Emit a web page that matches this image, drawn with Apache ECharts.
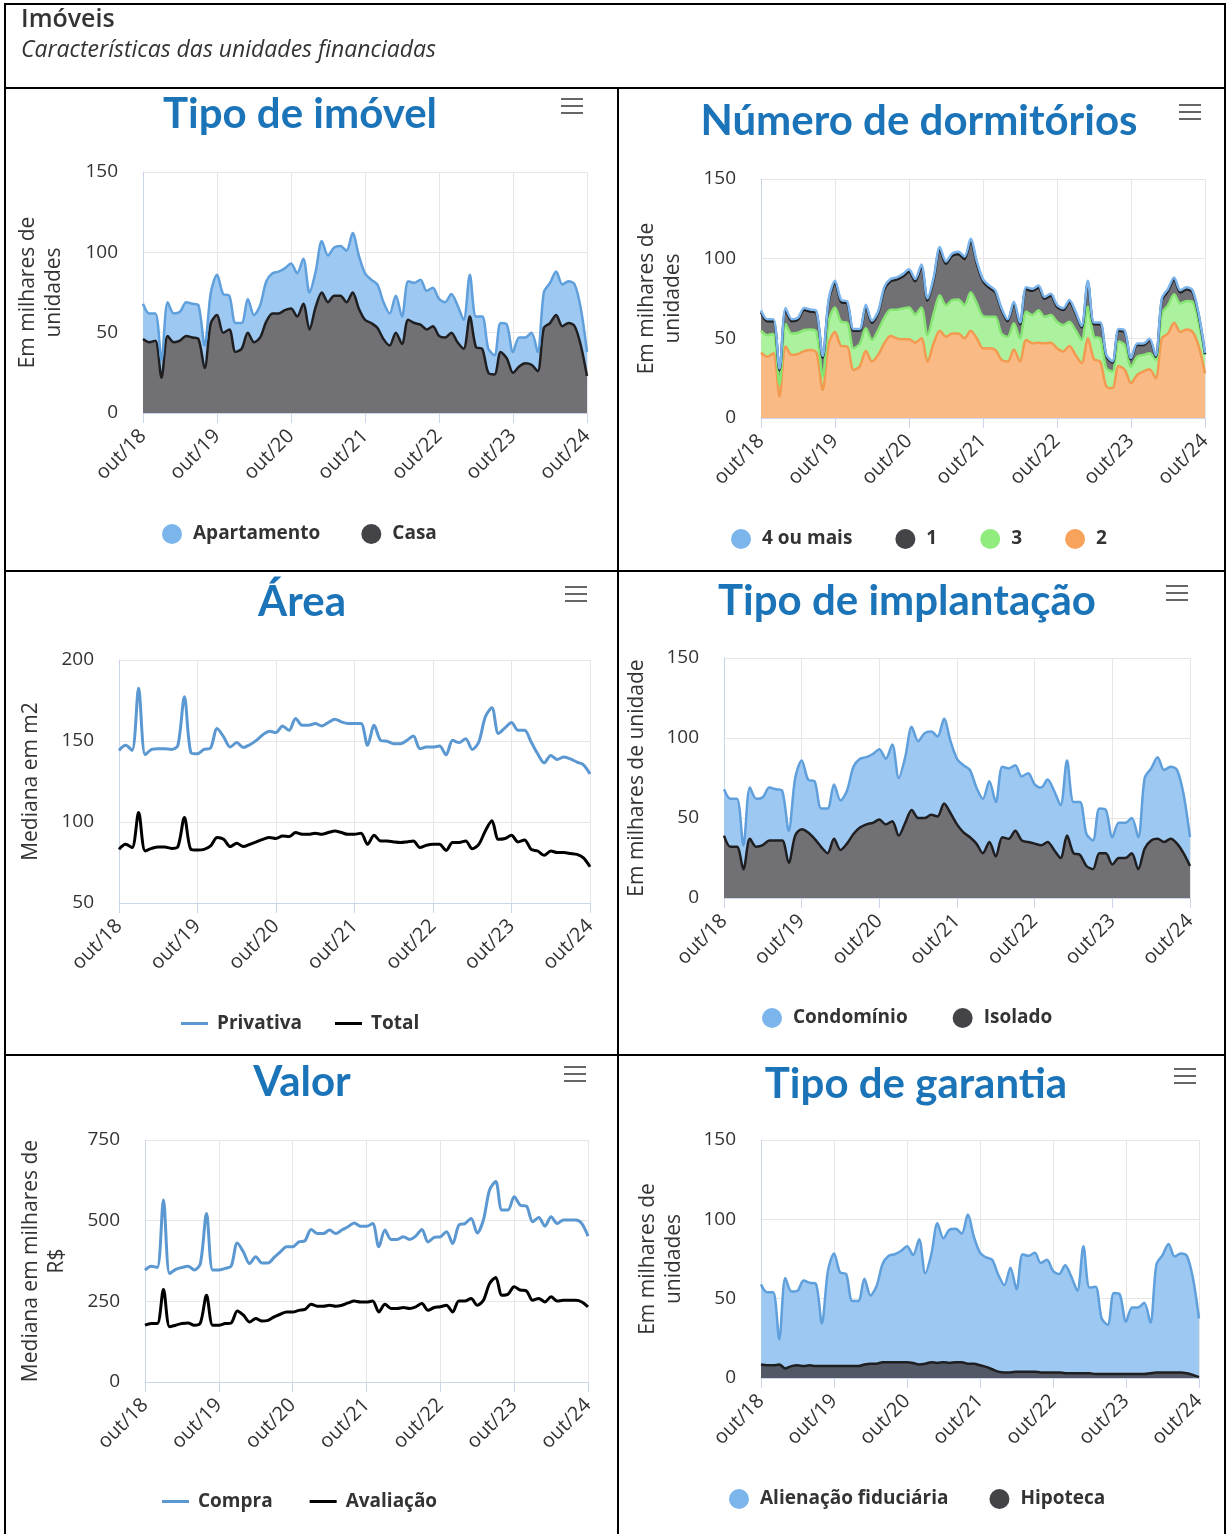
<!DOCTYPE html>
<html lang="pt-BR">
<head>
<meta charset="utf-8">
<title>Imóveis - Características das unidades financiadas</title>
<script src="https://cdn.jsdelivr.net/npm/echarts@6/dist/echarts.min.js"></script>
<style>
  html, body { margin: 0; padding: 0; background: #fff; }
  #painel { width: 1226px; height: 1534px; }
</style>
</head>
<body>
<div id="painel"></div>
<script>
// meses de out/18 a out/24
const meses = [
  'out/18','nov/18','dez/18',
  'jan/19','fev/19','mar/19','abr/19','mai/19','jun/19','jul/19','ago/19','set/19','out/19','nov/19','dez/19',
  'jan/20','fev/20','mar/20','abr/20','mai/20','jun/20','jul/20','ago/20','set/20','out/20','nov/20','dez/20',
  'jan/21','fev/21','mar/21','abr/21','mai/21','jun/21','jul/21','ago/21','set/21','out/21','nov/21','dez/21',
  'jan/22','fev/22','mar/22','abr/22','mai/22','jun/22','jul/22','ago/22','set/22','out/22','nov/22','dez/22',
  'jan/23','fev/23','mar/23','abr/23','mai/23','jun/23','jul/23','ago/23','set/23','out/23','nov/23','dez/23',
  'jan/24','fev/24','mar/24','abr/24','mai/24','jun/24','jul/24','ago/24','set/24','out/24'
]

// Tipo de imóvel (milhares de unidades)
const apartamento = [22,18,17,11,21,18,18,21,21,21, 14,19,25,24,21,18,16,21,17,20, 25,25,26,26,28,27,28,23,22,32,
  29,30,31,32,37,33,29,27,27,23, 20,23,17,24,25,28,24,24,23,22, 24,23,18,26,19,20,15,12,18,21, 13,18,16,20,12,22,25,27,26,26, 26,23,15]
const casa = [46,44,45,22,48,44,45,48,47,46, 28,56,61,50,52,38,40,50,44,47, 57,62,62,64,65,60,68,52,66,75,
  69,73,73,69,75,65,58,56,53,46, 42,50,43,58,56,55,52,54,48,47, 50,44,40,60,41,40,25,24,38,34, 25,29,31,30,26,53,56,61,54,56, 54,42,23]

// Número de dormitórios (milhares de unidades)
const dorm2 = [41,38.5,40.6,13.5,44.8,39.6,40.2,42,42.7,41, 17.7,46.9,54,45.2,44.8,30.2,32.3,42,35.4,39.6, 46.9,51.5,50,49.4,49.4,47.3,50,35.4,46.9,54.8,
  51,53,53,50,54.8,50,43.8,43.8,42.7,36.5, 35.4,43,35.4,49,46.9,47.3,46.9,47.3,43.8,41.7, 45.2,39.6,34.4,50,36.9,35.4,19.8,18.8,32.7,30.2,
  21.9,27,29.2,30.6,25,50,53,59.8,54,55.6, 54,44.8,28]
const dorm3 = [13.8,13.5,12.1,7.5,14.2,13.4,13.3,13.2,12.9,13, 8.3,14.6,15.4,15.2,15,13.6,14.2,14.3,13.6,15.6, 16.1,16.5,18,19.4,20,17.7,19.4,16.6,18.7,22.2,
  19.8,21,21.4,20.8,24.2,21.9,20.2,19.7,20.8,16.5, 15.6,16.4,14.6,17.7,17.7,20.4,16.6,17.3,16.6,16.6, 15.2,15.6,14.6,19.8,14.1,14.6,11.5,10.4,15.3,15.6,
  10.4,11.5,10.4,10,11.5,15.6,17.8,17.9,17.9,17.9, 18.9,14.6,11.6]
const dorm1 = [11.5,8.8,8.1,9,8.8,7.8,8.3,12.6,11.2,11.8, 12,12.3,15.4,12.4,12,11,8.3,13.5,10.8,10.6, 17.8,17.8,18.8,20,22.4,20.8,25.4,21.8,21.2,28.8,
  26,27.8,28.4,29,31.8,24.9,21.8,18.3,15.3,14.8, 9.8,12.4,8.8,14.1,15.2,14.1,11.3,12.2,9.4,9.5, 12.4,10.6,7.8,15,7.8,8.8,7.5,5.6,6.8,8,
  4.5,7.3,6.2,8.2,2,8.2,9,9.1,6.9,7.3, 5.9,4.4,0.5]
const dorm4 = [1.3,1.2,1.2,1,1.3,1.2,1.2,1.3,1.3,1.2, 1,1.3,1.4,1.3,1.3,1.1,1.1,1.3,1.2,1.2, 1.4,1.4,1.5,1.5,1.5,1.4,1.5,1.3,1.4,1.6,
  1.5,1.5,1.6,1.5,1.7,1.5,1.4,1.4,1.3,1.2, 1.1,1.2,1.1,1.3,1.3,1.3,1.2,1.2,1.2,1.1, 1.2,1.1,1,1.3,1.1,1.1,0.8,0.8,1,1,
  0.8,0.9,0.9,0.9,0.8,1.2,1.3,1.4,1.3,1.3, 1.3,1.1,0.7]

// Área (mediana em m2)
const privativa = [144.2,147.3,144.2,182.5,141.5,144.8,145.2,145.2,144.8,147.3, 177.3,142.8,142.1,144.8,145.7,157.7,152.5,146.3,149,146,
  147.7,150.4,153.9,156,155.2,159.3,156.6,163.9,159.7,159.7, 160.8,159.3,161.4,163.5,161.8,160.8,160.8,160.8,147.3,159.7,
  150.4,149.8,148.3,148.3,150.4,153.1,145.2,146.3,146.3,146.9, 141.5,150.4,149,151.4,144.8,149.4,164.9,170.5,154.6,158.1,
  161.4,156.6,156.6,149.4,142.1,136.5,141.1,138.6,140.1,139, 137,135.3,129.7]
const areaTotal = [83.1,86.2,84.2,105.9,82.1,83.7,84.6,84.6,83.7,84.8, 102.8,83.1,82.7,83.1,85.2,90.4,89.3,84.8,86.9,84.8,
  86.2,87.7,89.3,90.4,89.8,91.4,91,93.5,92.4,92.4, 93.1,92.4,93.5,94.5,93.5,92.4,92.4,93.1,86.2,91.8,
  88.3,88.3,87.7,87.3,87.7,88.3,84.2,85.6,86.2,86.2, 82.5,87.3,87.3,88.3,83.5,86.2,94.5,100.7,89.3,89.8,
  91.8,87.7,88.9,83.1,82.1,79.4,82.1,81.1,81.1,80.6, 80,77.9,72.4]

// Tipo de implantação (milhares de unidades)
const condominio = [29,30,30,15,32,30,30,33,32,31, 20,36,43,33,36,24,28,34,31,33, 42,43,42,43,44,41,48,36,41,52,
  48,53,52,50,53,45,41,42,42,35, 34,38,34,44,44,41,40,43,37,36, 39,37,33,47,32,33,20,18,28,27, 17,22,22,22,20,44,45,51,45,45, 46,37,18]
const isolado = [39,32,32,18,37,32,33,36,36,36, 22,39,43,41,37,32,28,37,30,34, 40,44,46,47,49,46,48,39,47,55,
  50,50,52,51,59,53,46,41,38,34, 28,35,26,38,37,42,36,35,34,33, 35,30,25,39,28,27,20,18,28,28, 21,25,25,28,18,31,36,37,35,37, 34,28,20]

// Valor (mediana em milhares de R$)
const compra = [347,359,355,564,336,349,355,359,347,367, 522,347,347,352,359,431,403,367,388,369, 369,386,403,419,419,434,438,473,460,460,
  471,460,471,481,493,483,483,491,419,471, 442,442,450,442,452,473,434,448,450,466, 429,486,491,507,462,502,595,621,533,533,
  574,548,545,497,510,483,512,491,502,502, 502,491,452]
const avaliacao = [176,181,181,287,171,176,181,183,176,183, 269,176,176,181,183,220,207,186,197,189, 191,202,210,217,217,222,225,241,235,235,
  238,235,238,245,251,248,248,251,217,241, 228,228,231,228,233,243,222,231,233,238, 217,251,251,259,238,253,305,324,269,272,
  295,285,282,253,259,248,264,251,253,253, 253,248,233]

// Tipo de garantia (milhares de unidades)
const alienacao = [59,54,54,24.5,63,54.5,55,61.5,60,59.5, 34.5,67.5,78.5,66.5,65.5,48.5,48.5,62.5,52,58, 72,77,78,80,83,77.5,87.5,66,78,97.5,
  88,93.5,94,91,103,89,79,76,74.5,65, 58.5,69.5,56,78,77,79,72.5,74.5,67.5,65.5, 71,64,55,83,57,57.5,37.5,33.5,53.5,52.5,
  35.5,44.5,44.5,47.5,35,71.5,77.5,84.5,76.5,78.5, 77,63,37.5]
const hipoteca = [8.5,8,8,8.5,6,7.5,8,7.5,8,7.5, 7.5,7.5,7.5,7.5,7.5,7.5,7.5,8.5,9,9, 10,10,10,10,10,9.5,8.5,9,10,9.5,
  10,9.5,10,10,9,9,8,7,5.5,4, 3.5,3.5,4,4,4,4,3.5,3.5,3.5,3.5, 3,3,3,3,3,2.5,2.5,2.5,2.5,2.5, 2.5,2.5,2.5,2.5,3,3.5,3.5,3.5,3.5,3.5, 3,2,0.5]

const FONTE = '"Open Sans", "Noto Sans", sans-serif'
const FONTE_TITULO = 'Lato, "Open Sans", sans-serif'
const TEXTO = '#333333'

// posição de cada gráfico na página
const grades = [
  { left: 143, top: 172, width: 444, height: 241 },
  { left: 761, top: 179, width: 444, height: 239 },
  { left: 119, top: 660, width: 471, height: 243 },
  { left: 724, top: 658, width: 466, height: 240 },
  { left: 145, top: 1140, width: 443, height: 242 },
  { left: 761, top: 1140, width: 438, height: 238 }
]

const eixoX = (i) => ({
  type: 'category',
  gridIndex: i,
  data: meses,
  boundaryGap: false,
  axisLine: { lineStyle: { color: '#ccd6eb', width: 1 } },
  axisTick: { show: true, interval: 11, length: 10, lineStyle: { color: '#ccd6eb' } },
  axisLabel: { interval: 11, rotate: 45, margin: 20, fontSize: 20, color: TEXTO, fontFamily: FONTE },
  splitLine: { show: true, interval: 11, lineStyle: { color: '#e6e6e6' } }
})

const eixoY = (i, min, max, interval, nome, gap) => ({
  type: 'value',
  gridIndex: i,
  min, max, interval,
  name: nome,
  nameLocation: 'middle',
  nameRotate: 90,
  nameGap: gap,
  nameTextStyle: { fontSize: 21, color: TEXTO, fontFamily: FONTE, lineHeight: 26 },
  axisLine: { show: true, lineStyle: { color: '#ccd6eb' } },
  axisTick: { show: false },
  axisLabel: { margin: 25, fontSize: 19, color: TEXTO, fontFamily: FONTE },
  splitLine: { lineStyle: { color: '#e6e6e6' } }
})

const titulo = (texto, x, y) => ({
  text: texto, left: x, top: y, textAlign: 'center', padding: 0,
  textStyle: { fontSize: 42, fontWeight: 'bold', color: '#1b74b8', fontFamily: FONTE_TITULO }
})

const legenda = (nomes, x, y, gap, linha) => ({
  data: nomes, left: x, top: y, padding: 0, orient: 'horizontal',
  icon: linha ? 'rect' : 'circle',
  itemWidth: linha ? 27 : 20, itemHeight: linha ? 3 : 20,
  itemGap: gap,
  textStyle: { fontSize: 19, fontWeight: 'bold', color: TEXTO, fontFamily: FONTE, padding: [0, 0, 0, linha ? 4 : 6] }
})

// área empilhada (ou sobreposta) com traço por cima
const area = (nome, dados, i, cor, traco, fundo, pilha) => ({
  name: nome, type: 'line', xAxisIndex: i, yAxisIndex: i, data: dados,
  stack: pilha, smooth: 0.3, symbol: 'none',
  itemStyle: { color: cor },
  lineStyle: { color: traco, width: 2.5 },
  areaStyle: { color: fundo, opacity: 1 }
})

const linha = (nome, dados, i, cor) => ({
  name: nome, type: 'line', xAxisIndex: i, yAxisIndex: i, data: dados,
  smooth: 0.3, symbol: 'none',
  itemStyle: { color: cor },
  lineStyle: { color: cor, width: 3 }
})

// ícone de menu (três traços)
const menu = (x, y) => ({
  type: 'group', x, y,
  children: [0, 7, 14].map(d => ({
    type: 'rect', shape: { x: 0, y: d, width: 22, height: 2 }, style: { fill: '#666' }
  }))
})

const borda = (x1, y1, x2, y2) => ({
  type: 'line', shape: { x1, y1, x2, y2 }, style: { stroke: '#000', lineWidth: 2 }
})

const chart = echarts.init(document.getElementById('painel'))

const option = {
  animation: false,
  backgroundColor: '#fff',
  textStyle: { fontFamily: FONTE },
  title: [
    {
      text: 'Imóveis', subtext: 'Características das unidades financiadas',
      left: 21, top: 7, itemGap: 7, padding: 0,
      textStyle: { fontSize: 25, fontWeight: 600, color: '#333', fontFamily: FONTE },
      subtextStyle: { fontSize: 23, fontStyle: 'italic', color: '#333', fontFamily: FONTE }
    },
    titulo('Tipo de imóvel', 300, 93),
    titulo('Número de dormitórios', 919, 100),
    titulo('Área', 302, 581),
    titulo('Tipo de implantação', 907, 580),
    titulo('Valor', 302, 1061),
    titulo('Tipo de garantia', 916, 1063)
  ],
  legend: [
    legenda(['Apartamento', 'Casa'], 162, 524, 41),
    legenda(['4 ou mais', '1', '3', '2'], 731, 529, 43),
    legenda(['Privativa', 'Total'], 181, 1014, 33, true),
    legenda(['Condomínio', 'Isolado'], 762, 1008, 45),
    legenda(['Compra', 'Avaliação'], 162, 1492, 37, true),
    legenda(['Alienação fiduciária', 'Hipoteca'], 729, 1489, 41)
  ],
  grid: grades.map(g => ({ ...g, containLabel: false, outerBoundsMode: 'none' })),
  xAxis: [0, 1, 2, 3, 4, 5].map(eixoX),
  yAxis: [
    eixoY(0, 0, 150, 50, 'Em milhares de\nunidades', 76),
    eixoY(1, 0, 150, 50, 'Em milhares de\nunidades', 75),
    eixoY(2, 50, 200, 50, 'Mediana em m2', 75),
    eixoY(3, 0, 150, 50, 'Em milhares de unidade', 74),
    eixoY(4, 0, 750, 250, 'Mediana em milhares de\nR$', 75),
    eixoY(5, 0, 150, 50, 'Em milhares de\nunidades', 74)
  ],
  series: [
    area('Casa', casa, 0, '#434348', '#1f1f22', '#717175', 'imovel'),
    area('Apartamento', apartamento, 0, '#7cb5ec', '#5e9fdc', '#9dc8f1', 'imovel'),

    area('2', dorm2, 1, '#f7a35c', '#f29a50', '#f9ba85', 'dorm'),
    area('3', dorm3, 1, '#90ed7d', '#86e472', '#acf29e', 'dorm'),
    area('1', dorm1, 1, '#434348', '#1f1f22', '#717175', 'dorm'),
    area('4 ou mais', dorm4, 1, '#7cb5ec', '#7cb5ec', '#9dc8f1', 'dorm'),

    linha('Privativa', privativa, 2, '#5b97d1'),
    linha('Total', areaTotal, 2, '#000000'),

    area('Isolado', isolado, 3, '#434348', '#1f1f22', '#717175', 'impl'),
    area('Condomínio', condominio, 3, '#7cb5ec', '#5e9fdc', '#9dc8f1', 'impl'),

    linha('Compra', compra, 4, '#5b97d1'),
    linha('Avaliação', avaliacao, 4, '#000000'),

    area('Alienação fiduciária', alienacao, 5, '#7cb5ec', '#5e9fdc', '#9dc8f1'),
    area('Hipoteca', hipoteca, 5, '#434348', '#1f1f22', '#525865')
  ],
  graphic: [
    borda(5, 4, 1225, 4),
    borda(5, 3, 5, 1534),
    borda(1225, 3, 1225, 1534),
    borda(5, 88, 1225, 88),
    borda(5, 571, 1225, 571),
    borda(5, 1055, 1225, 1055),
    borda(618, 88, 618, 1534),
    menu(561, 98), menu(1179, 104),
    menu(565, 586), menu(1166, 585),
    menu(564, 1066), menu(1174, 1068)
  ]
}

chart.setOption(option)
</script>
</body>
</html>
